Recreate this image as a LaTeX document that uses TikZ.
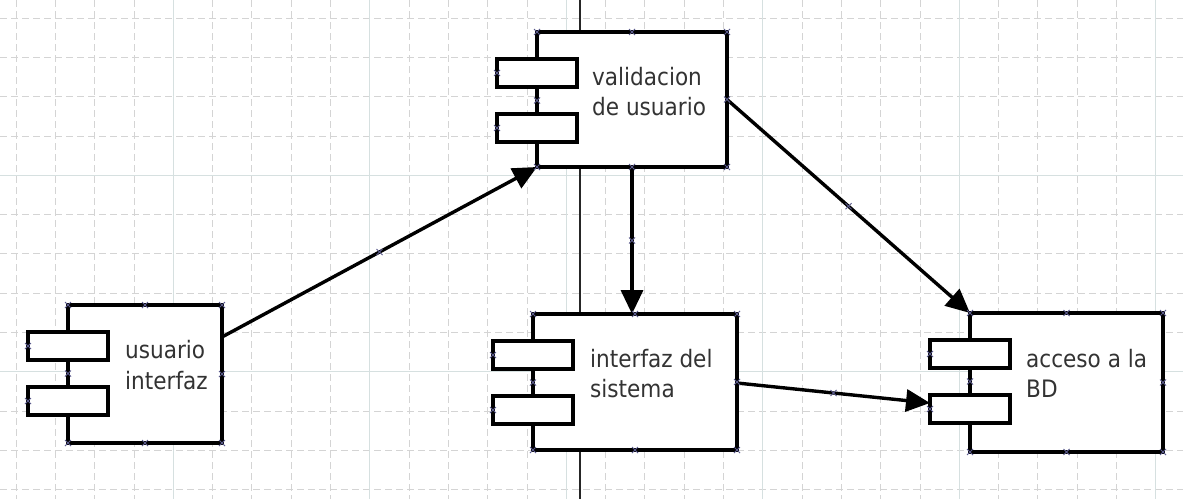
\documentclass[tikz,border=0pt]{standalone}
\usepackage{fontspec}
\newfontfamily\labelfont{DejaVu Sans Condensed}
\usetikzlibrary{arrows.meta,calc}

\definecolor{gridminor}{HTML}{D4D4D4}
\definecolor{gridmajor}{HTML}{D6E0E0}
\definecolor{handlecol}{HTML}{5A5A8C}
\definecolor{textcol}{HTML}{333333}

\tikzset{
  comp/.style={draw=black, fill=white, line width=3.4pt, rectangle,
    inner sep=0pt, outer sep=0pt, anchor=north west},
  port/.style={comp, minimum width=80pt, minimum height=28pt},
  lbl/.style={font=\labelfont\fontsize{24}{30}\selectfont, text=textcol,
    inner sep=0pt, anchor=base west},
  link/.style={line width=3.4pt, -{Triangle[length=24pt,width=22pt]}},
  minorgrid/.style={draw=gridminor, line width=0.8pt, dash pattern=on 7pt off 4pt},
  majorgrid/.style={draw=gridmajor, line width=1pt},
  divider/.style={draw=black!85, line width=1.6pt},
  handle/.style={draw=handlecol, line width=0.8pt},
}

% component: main box #1 at top-left (#2,#3), size #4 x #5, with two ports
\newcommand\umlcomp[5]{%
  \node[comp, minimum width=#4pt, minimum height=#5pt] (#1) at (#2,#3) {};
  \node[port] (#1p1) at (#2-40,#3+27) {};
  \node[port] (#1p2) at (#2-40,#3+82) {};
}
% small selection cross
\newcommand\hmark[1]{\draw[handle] #1 +(-3,-3) -- +(3,3) +(-3,3) -- +(3,-3);}
\newcommand\comphandles[1]{%
  \foreach \a in {north west,north,north east,east,south east,south,south west}{\hmark{(#1.\a)}}
  \hmark{(#1p1.west)}\hmark{(#1p2.west)}
  \hmark{($(#1p1.south)!0.5!(#1p2.north)$ -| #1.west)}
}

\begin{document}
\begin{tikzpicture}[x=1pt,y=-1pt]
  \useasboundingbox (0,0) rectangle (1183,499);
  \fill[white] (0,0) rectangle (1183,499);

  % background grid
  \foreach \k in {0,...,29}{\draw[minorgrid] (16+39.3*\k,0) -- (16+39.3*\k,499);}
  \foreach \k in {0,...,12}{\draw[minorgrid] (0,18+39.3*\k) -- (1183,18+39.3*\k);}
  \foreach \k in {4,9,14,19,24,29}{\draw[majorgrid] (16+39.3*\k,0) -- (16+39.3*\k,499);}
  \foreach \k in {4,9}{\draw[majorgrid] (0,18+39.3*\k) -- (1183,18+39.3*\k);}
  \draw[divider] (580,0) -- (580,499);

  % components
  \umlcomp{b1}{68}{305}{154}{138}
  \umlcomp{b2}{537}{32}{190}{135}
  \umlcomp{b3}{533}{314}{204}{136}
  \umlcomp{b4}{970}{313}{193}{139}

  % labels
  \node[lbl] (t1a) at (125,358) {usuario};
  \node[lbl] (t1b) at (125,389) {interfaz};
  \node[lbl] (t2a) at (592,85) {validacion};
  \node[lbl] (t2b) at (592,115) {de usuario};
  \node[lbl] (t3a) at (590,367) {interfaz del};
  \node[lbl] (t3b) at (590,397) {sistema};
  \node[lbl] (t4a) at (1026,367) {acceso a la};
  \node[lbl] (t4b) at (1026,397) {BD};

  % dependencies
  \draw[link] ([yshift=-32pt]b1.north east) -- coordinate[pos=.5] (m1) (b2.south west);
  \draw[link] (b2.south) -- coordinate[pos=.5] (m2) (b2.south |- b3.north);
  \draw[link] (b2.east) -- coordinate[pos=.5] (m3) (b4.north west);
  \draw[link] ([yshift=-1pt]b3.east) -- coordinate[pos=.5] (m4) ([yshift=6pt]b4p2.west);

  % selection handles
  \comphandles{b1}\comphandles{b2}\comphandles{b3}\comphandles{b4}
  \foreach \m in {m1,m2,m3,m4}{\hmark{(\m)}}
\end{tikzpicture}
\end{document}
